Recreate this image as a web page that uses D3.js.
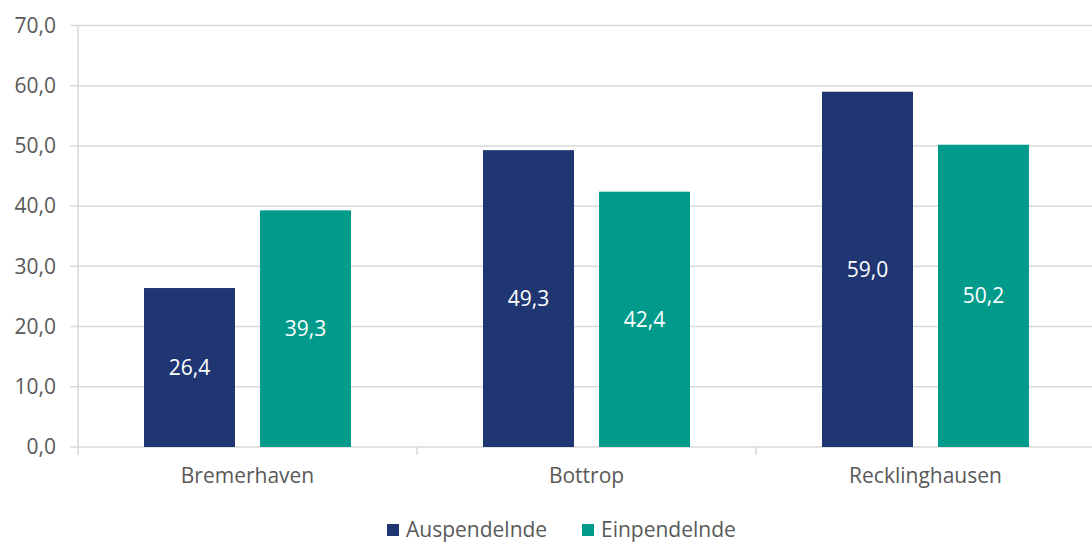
<!DOCTYPE html>
<html>
<head>
<meta charset="utf-8">
<script src="https://cdn.jsdelivr.net/npm/d3@7"></script>
<style>
  body { margin: 0; background: #fff; }
  svg { font-family: "Open Sans", Lato, sans-serif; }
  .tick text { fill: #595959; font-size: 21px; font-family: "Open Sans", Lato, sans-serif; }
</style>
</head>
<body>
<svg width="1092" height="542"></svg>
<script>
const categories = ["Bremerhaven", "Bottrop", "Recklinghausen"];
const seriesNames = ["Auspendelnde", "Einpendelnde"];
const auspendelnde = [26.4, 49.3, 59.0];
const einpendelnde = [39.3, 42.4, 50.2];
const yTicks = [0, 10, 20, 30, 40, 50, 60, 70];
const colors = ["#1f3673", "#009b8a"];

const svg = d3.select("svg");
const plotLeft = 78, plotRight = 1095, plotTop = 25.5, plotBottom = 447;
const fmt = (v) => v.toFixed(1).replace(".", ",");

const x = d3.scaleBand()
  .domain(categories)
  .range([plotLeft, plotRight])
  .paddingInner(0)
  .paddingOuter(0);

const xSub = d3.scaleBand()
  .domain(seriesNames)
  .range([66, x.bandwidth() - 66])
  .paddingInner(25 / 116);

const y = d3.scaleLinear()
  .domain([0, 70])
  .range([plotBottom, plotTop]);

// gridlines
svg.append("g")
  .selectAll("line")
  .data(yTicks)
  .enter()
  .append("line")
  .attr("x1", plotLeft - 8)
  .attr("x2", 1092)
  .attr("y1", d => y(d))
  .attr("y2", d => y(d))
  .attr("stroke", "#d9d9d9")
  .attr("stroke-width", 1.5);

// y axis
const yAxis = d3.axisLeft(y).tickValues(yTicks).tickFormat(fmt).tickSize(0).tickPadding(22);
const gy = svg.append("g")
  .attr("transform", `translate(${plotLeft}, 0)`)
  .call(yAxis);
gy.attr("font-family", null);
gy.select(".domain").remove();

svg.append("line")
  .attr("x1", plotLeft).attr("x2", plotLeft)
  .attr("y1", plotTop).attr("y2", plotBottom + 8)
  .attr("stroke", "#d9d9d9")
  .attr("stroke-width", 1.5);

// category tick marks
svg.append("g")
  .selectAll("line")
  .data(categories.slice(1))
  .enter()
  .append("line")
  .attr("x1", d => x(d))
  .attr("x2", d => x(d))
  .attr("y1", plotBottom)
  .attr("y2", plotBottom + 8)
  .attr("stroke", "#d9d9d9")
  .attr("stroke-width", 1.5);

// x axis labels
const xAxis = d3.axisBottom(x).tickSize(0).tickPadding(21);
const gx = svg.append("g")
  .attr("transform", `translate(0, ${plotBottom})`)
  .call(xAxis);
gx.attr("font-family", null);
gx.select(".domain").remove();

// bars
const rows = categories.map((c, i) => ({
  cat: c,
  vals: [auspendelnde[i], einpendelnde[i]]
}));

const groups = svg.append("g")
  .selectAll("g")
  .data(rows)
  .enter()
  .append("g")
  .attr("transform", d => `translate(${x(d.cat)}, 0)`);

const cells = groups.selectAll("g")
  .data(d => d.vals.map((v, j) => ({ name: seriesNames[j], v: v, j: j })))
  .enter()
  .append("g");

cells.append("rect")
  .attr("x", d => xSub(d.name))
  .attr("width", xSub.bandwidth())
  .attr("y", d => y(d.v))
  .attr("height", d => y(0) - y(d.v))
  .attr("fill", d => colors[d.j]);

cells.append("text")
  .attr("x", d => xSub(d.name) + xSub.bandwidth() / 2)
  .attr("y", d => (y(d.v) + y(0)) / 2)
  .attr("dy", "0.35em")
  .attr("text-anchor", "middle")
  .attr("fill", "#fff")
  .attr("font-size", 21)
  .text(d => fmt(d.v));

// legend
const legendX = [387, 582];
const legend = svg.append("g")
  .selectAll("g")
  .data(seriesNames)
  .enter()
  .append("g")
  .attr("transform", (d, i) => `translate(${legendX[i]}, 530)`);

legend.append("rect")
  .attr("x", 0).attr("y", -6)
  .attr("width", 12).attr("height", 12)
  .attr("fill", (d, i) => colors[i]);

legend.append("text")
  .attr("x", 19)
  .attr("dy", "0.35em")
  .attr("fill", "#595959")
  .attr("font-size", 21)
  .text(d => d);
</script>
</body>
</html>
